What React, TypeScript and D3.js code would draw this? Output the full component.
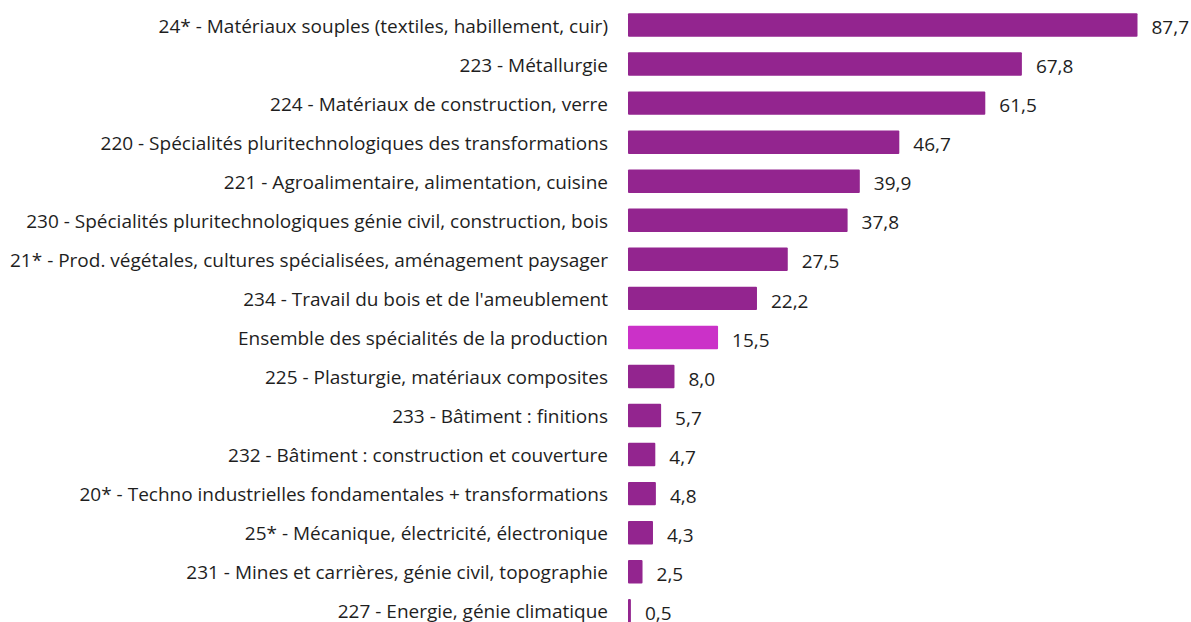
import React from "react";
import * as d3 from "d3";

const categories = [
  "24* - Matériaux souples (textiles, habillement, cuir)",
  "223 - Métallurgie",
  "224 - Matériaux de construction, verre",
  "220 - Spécialités pluritechnologiques des transformations",
  "221 - Agroalimentaire, alimentation, cuisine",
  "230 - Spécialités pluritechnologiques génie civil, construction, bois",
  "21* - Prod. végétales, cultures spécialisées, aménagement paysager",
  "234 - Travail du bois et de l'ameublement",
  "Ensemble des spécialités de la production",
  "225 - Plasturgie, matériaux composites",
  "233 - Bâtiment : finitions",
  "232 - Bâtiment : construction et couverture",
  "20* - Techno industrielles fondamentales + transformations",
  "25* - Mécanique, électricité, électronique",
  "231 - Mines et carrières, génie civil, topographie",
  "227 - Energie, génie climatique",
];
const values = [87.7, 67.8, 61.5, 46.7, 39.9, 37.8, 27.5, 22.2, 15.5, 8.0, 5.7, 4.7, 4.8, 4.3, 2.5, 0.5];
const highlighted = ["Ensemble des spécialités de la production"];

const W = 1191;
const H = 622;
const BAR = "#93258F";
const HIGHLIGHT = "#CB31C8";
const TEXT = "#1e1e1e";
const FONT = "'Open Sans', 'Noto Sans', sans-serif";

export default function App() {
  const x = d3.scaleLinear().domain([0, 87.7]).range([628, 1137.5]);
  const y = d3
    .scaleBand<string>()
    .domain(categories)
    .range([5.5, 5.5 + 39.05 * categories.length])
    .paddingInner(0.4)
    .paddingOuter(0.2);
  const fmt = (v: number) => d3.format(".1f")(v).replace(".", ",");
  return (
    <svg
      width={W}
      height={H}
      style={{ position: "absolute", left: 0, top: 0, background: "#fff" }}
    >
      {categories.map((c, i) => {
        const yy = y(c)!;
        const bw = y.bandwidth();
        const cy = yy + bw / 2;
        return (
          <g key={c}>
            <text
              x={608}
              y={cy + 1}
              dy="0.35em"
              textAnchor="end"
              fontFamily={FONT}
              fontSize={19}
              fill={TEXT}
            >
              {c}
            </text>
            <rect
              x={x(0)}
              y={yy}
              width={x(values[i]) - x(0)}
              height={bw}
              rx={1}
              fill={highlighted.includes(c) ? HIGHLIGHT : BAR}
            />
            <text
              x={x(values[i]) + 14}
              y={cy + 2.5}
              dy="0.35em"
              fontFamily={FONT}
              fontSize={19}
              fill={TEXT}
            >
              {fmt(values[i])}
            </text>
          </g>
        );
      })}
    </svg>
  );
}
